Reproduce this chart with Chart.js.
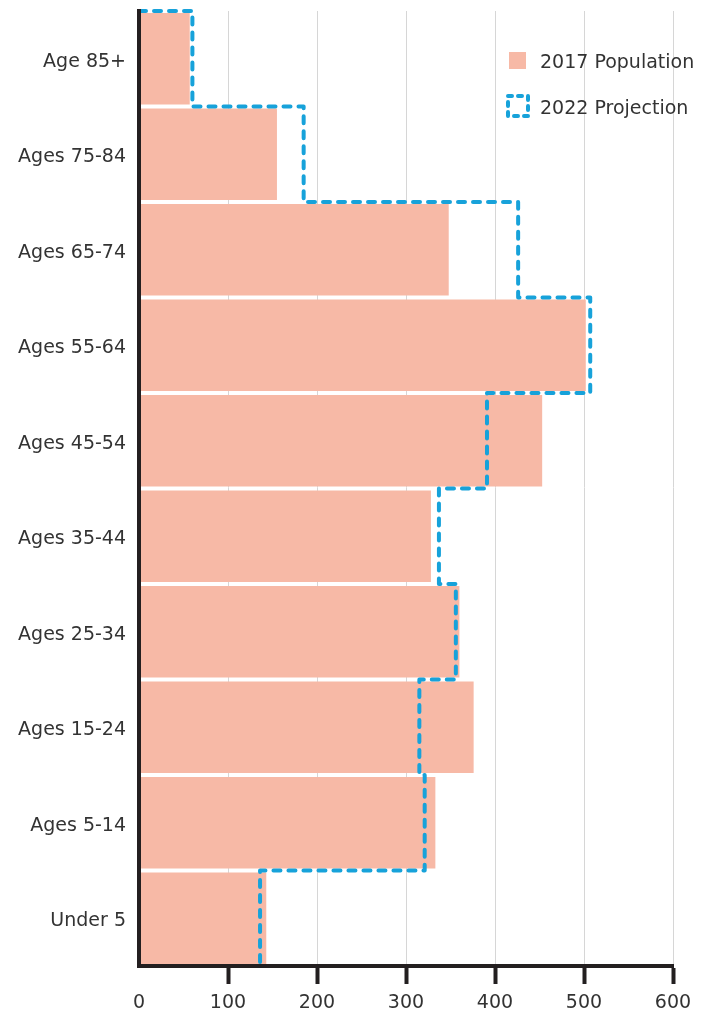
<!DOCTYPE html>
<html>
<head>
<meta charset="utf-8">
<script src="https://cdn.jsdelivr.net/npm/chart.js@4.4.1/dist/chart.umd.min.js"></script>
<style>
  html, body { margin: 0; padding: 0; background: #fff; }
  #wrap { width: 704px; height: 1015px; position: relative; }
</style>
</head>
<body>
<div id="wrap"><canvas id="pyramide"></canvas></div>
<script>
// --- DONNÉES ---
const tranches = ['Age 85+', 'Ages 75-84', 'Ages 65-74', 'Ages 55-64', 'Ages 45-54',
                  'Ages 35-44', 'Ages 25-34', 'Ages 15-24', 'Ages 5-14', 'Under 5'];
const pop2017 = [57, 155, 348, 502, 453, 328, 360, 376, 333, 143];
const proj2022 = [60, 185, 426, 507, 391, 337, 356, 315, 321, 136];
const graduations = [0, 100, 200, 300, 400, 500, 600];
const libelles = ['2017 Population', '2022 Projection'];

const rose = '#f7b9a6';
const bleu = '#17a2da';
const encre = '#231f20';
const texte = '#333333';

Chart.defaults.font.family = "'DejaVu Sans', sans-serif";
Chart.defaults.font.size = 19;
Chart.defaults.color = texte;

// barres : une par tranche, positionnée sur l'indice de la tranche
const barres = pop2017.map((v, i) => ({ x: v, y: i }));

// contour en escalier de la projection : chaque tranche occupe [i-0.5, i+0.5]
const contour = [{ x: 0, y: -0.5 }];
proj2022.forEach((v, i) => {
    contour.push({ x: v, y: i - 0.5 }, { x: v, y: i + 0.5 });
});

// légende dessinée dans la zone du graphique, en haut à droite
const legendeInterne = {
    id: 'legendeInterne',
    afterDraw(chart) {
        const c = chart.ctx;
        c.save();
        c.fillStyle = rose;
        c.fillRect(509, 52, 17, 17);

        c.strokeStyle = bleu;
        c.lineWidth = 4;
        c.lineCap = 'round';
        c.setLineDash([4, 6]);
        c.strokeRect(508, 96, 20, 20);
        c.setLineDash([]);

        c.fillStyle = texte;
        c.font = "19px 'DejaVu Sans', sans-serif";
        c.textAlign = 'left';
        c.textBaseline = 'alphabetic';
        c.fillText(libelles[0], 540, 68);
        c.fillText(libelles[1], 540, 114);
        c.restore();
    }
};

const config = {
    type: 'bar',
    data: {
        datasets: [
            {
                type: 'line',
                label: libelles[1],
                data: contour,
                indexAxis: 'y',
                xAxisID: 'x',
                yAxisID: 'y',
                borderColor: bleu,
                borderWidth: 4,
                borderDash: [7, 8],
                borderCapStyle: 'round',
                borderJoinStyle: 'round',
                pointRadius: 0,
                fill: false,
                tension: 0,
                clip: false,
                order: 0
            },
            {
                type: 'bar',
                label: libelles[0],
                data: barres,
                xAxisID: 'x',
                yAxisID: 'y',
                grouped: false,
                backgroundColor: rose,
                borderWidth: 0,
                barPercentage: 0.958,
                categoryPercentage: 1,
                order: 1
            }
        ]
    },
    options: {
        indexAxis: 'y',
        responsive: true,
        maintainAspectRatio: false,
        animation: false,
        layout: { padding: { top: 11, right: 31, bottom: 0, left: 0 } },
        scales: {
            x: {
                type: 'linear',
                position: 'bottom',
                min: 0,
                max: 600,
                offset: false,
                afterBuildTicks: s => { s.ticks = graduations.map(v => ({ value: v })); },
                afterFit: s => { s.height = 49; },
                grid: {
                    offset: false,
                    color: '#d6d6d6',
                    lineWidth: 1,
                    tickLength: 18,
                    tickWidth: 4,
                    tickColor: ctx => ctx.index === 0 ? 'rgba(0,0,0,0)' : encre
                },
                border: { display: true, color: encre, width: 4, z: 1 },
                ticks: { padding: 8, color: texte }
            },
            y: {
                type: 'linear',
                position: 'left',
                min: -0.5,
                max: 9.5,
                reverse: true,
                offset: false,
                afterBuildTicks: s => { s.ticks = tranches.map((t, i) => ({ value: i })); },
                // les libellés restent dans leur bande : pas de marge supplémentaire
                afterFit: s => { s.width = 139; s.paddingTop = 0; s.paddingBottom = 0; },
                grid: { display: false, drawTicks: false, offset: false },
                // l'axe vertical passe par-dessus le pied des barres
                border: { display: true, color: encre, width: 4, z: 1 },
                ticks: {
                    padding: 13,
                    labelOffset: 3,
                    color: texte,
                    autoSkip: false,
                    callback: v => tranches[v]
                }
            }
        },
        plugins: {
            legend: { display: false },
            tooltip: { enabled: false }
        }
    },
    plugins: [legendeInterne]
};

const monGraphique = new Chart(document.getElementById('pyramide'), config);
</script>
</body>
</html>
